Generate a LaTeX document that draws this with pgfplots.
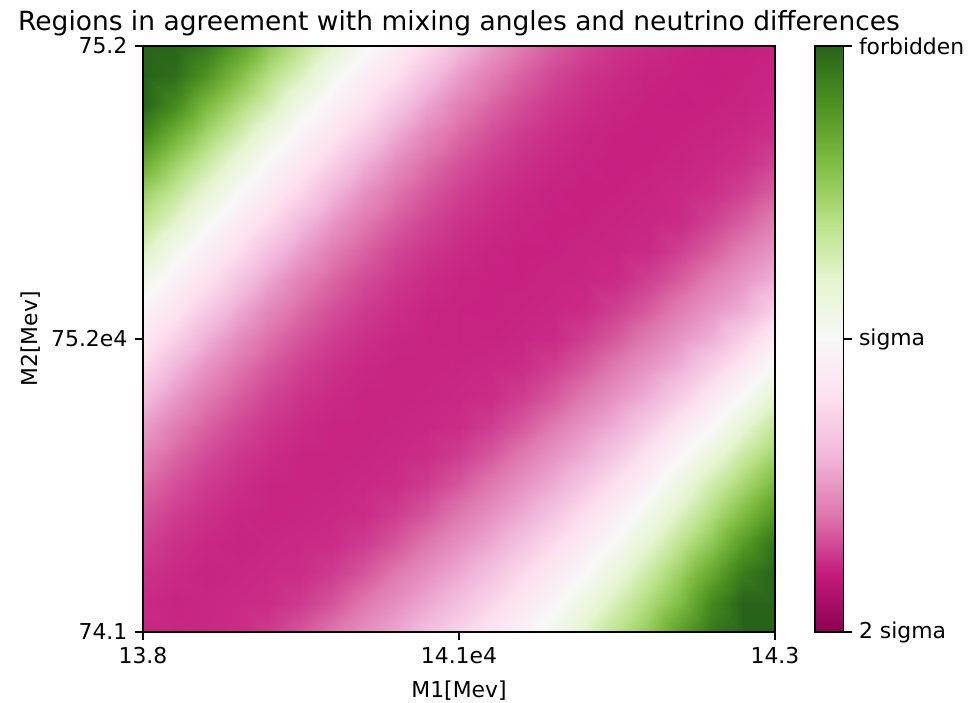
\documentclass[border=0pt]{standalone}
\usepackage{fontspec}
\setmainfont{DejaVu Sans}
\usepackage{pgfplots}
\pgfplotsset{compat=1.18}
\begin{document}
\begin{tikzpicture}
\begin{axis}[
  name=main,
  scale only axis, width=303.4pt, height=281.3pt,
  xmin=0, xmax=20, ymin=0, ymax=20,
  axis on top,
  xtick={0,10,20}, xticklabels={13.8,14.1e4,14.3},
  ytick={0,10,20}, yticklabels={74.1,75.2e4,75.2},
  tick align=outside, tick pos=left, major tick length=4pt,
  every tick/.style={black, line width=0.8pt},
  axis line style={line width=0.8pt},
  tick label style={font=\fontsize{10.5}{12}\selectfont},
  label style={font=\fontsize{10.5}{12}\selectfont},
  xlabel={M1[Mev]}, ylabel={M2[Mev]},
  xlabel style={at={(axis description cs:0.5,-0.1006)}, anchor=center},
  ylabel style={at={(axis description cs:-0.1772,0.5)}, anchor=center, rotate=0},
  title={Regions in agreement with mixing angles and neutrino differences},
  every axis title shift=0pt,
  title style={font=\fontsize{12.7}{14}\selectfont, at={(axis description cs:0.5,1)}, anchor=base, yshift=7.2pt},
  colormap={piyg}{rgb255=(142,1,82) rgb255=(197,27,125) rgb255=(222,119,174) rgb255=(241,182,218) rgb255=(253,224,239) rgb255=(247,247,247) rgb255=(230,245,208) rgb255=(184,225,134) rgb255=(127,188,65) rgb255=(77,146,33) rgb255=(39,100,25)},
  point meta min=0, point meta max=1,
  colorbar,
  colorbar style={
    width=13.6pt,
    at={(parent axis.north east)}, anchor=north west, xshift=10.66pt,
    ytick={0,0.5,1}, yticklabels={2 sigma,sigma,forbidden},
    tick align=outside, ytick pos=right, major tick length=4pt,
    every tick/.style={black, line width=0.8pt},
    axis line style={line width=0.8pt},
    yticklabel style={font=\fontsize{10.5}{12}\selectfont},
  },
]
\addplot[surf, shader=interp, mesh/cols=21, point meta=explicit] coordinates {
(0,0)[0.11] (1,0)[0.112] (2,0)[0.114] (3,0)[0.117] (4,0)[0.134] (5,0)[0.161] (6,0)[0.20] (7,0)[0.237] (8,0)[0.274] (9,0)[0.316] (10,0)[0.368] (11,0)[0.421] (12,0)[0.472] (13,0)[0.535] (14,0)[0.613] (15,0)[0.695] (16,0)[0.765] (17,0)[0.87] (18,0)[0.96] (19,0)[1.0] (20,0)[1.0]
(0,1)[0.117] (1,1)[0.11] (2,1)[0.113] (3,1)[0.116] (4,1)[0.119] (5,1)[0.134] (6,1)[0.162] (7,1)[0.201] (8,1)[0.238] (9,1)[0.276] (10,1)[0.32] (11,1)[0.375] (12,1)[0.429] (13,1)[0.483] (14,1)[0.555] (15,1)[0.637] (16,1)[0.718] (17,1)[0.80] (18,1)[0.92] (19,1)[1.0] (20,1)[1.0]
(0,2)[0.125] (1,2)[0.116] (2,2)[0.11] (3,2)[0.113] (4,2)[0.116] (5,2)[0.119] (6,2)[0.135] (7,2)[0.163] (8,2)[0.202] (9,2)[0.24] (10,2)[0.278] (11,2)[0.324] (12,2)[0.382] (13,2)[0.439] (14,2)[0.495] (15,2)[0.577] (16,2)[0.662] (17,2)[0.75] (18,2)[0.85] (19,2)[0.95] (20,2)[1.0]
(0,3)[0.14] (1,3)[0.123] (2,3)[0.114] (3,3)[0.11] (4,3)[0.113] (5,3)[0.116] (6,3)[0.119] (7,3)[0.135] (8,3)[0.163] (9,3)[0.202] (10,3)[0.241] (11,3)[0.28] (12,3)[0.329] (13,3)[0.389] (14,3)[0.449] (15,3)[0.513] (16,3)[0.60] (17,3)[0.688] (18,3)[0.775] (19,3)[0.88] (20,3)[0.97]
(0,4)[0.16] (1,4)[0.137] (2,4)[0.122] (3,4)[0.113] (4,4)[0.11] (5,4)[0.112] (6,4)[0.115] (7,4)[0.119] (8,4)[0.136] (9,4)[0.164] (10,4)[0.203] (11,4)[0.243] (12,4)[0.282] (13,4)[0.334] (14,4)[0.397] (15,4)[0.461] (16,4)[0.535] (17,4)[0.625] (18,4)[0.714] (19,4)[0.80] (20,4)[0.89]
(0,5)[0.185] (1,5)[0.156] (2,5)[0.134] (3,5)[0.12] (4,5)[0.111] (5,5)[0.11] (6,5)[0.112] (7,5)[0.115] (8,5)[0.119] (9,5)[0.136] (10,5)[0.165] (11,5)[0.204] (12,5)[0.244] (13,5)[0.284] (14,5)[0.34] (15,5)[0.407] (16,5)[0.474] (17,5)[0.558] (18,5)[0.652] (19,5)[0.73] (20,5)[0.81]
(0,6)[0.215] (1,6)[0.18] (2,6)[0.152] (3,6)[0.131] (4,6)[0.119] (5,6)[0.11] (6,6)[0.11] (7,6)[0.112] (8,6)[0.115] (9,6)[0.119] (10,6)[0.137] (11,6)[0.166] (12,6)[0.205] (13,6)[0.246] (14,6)[0.286] (15,6)[0.346] (16,6)[0.417] (17,6)[0.489] (18,6)[0.575] (19,6)[0.665] (20,6)[0.74]
(0,7)[0.26] (1,7)[0.209] (2,7)[0.175] (3,7)[0.148] (4,7)[0.128] (5,7)[0.117] (6,7)[0.11] (7,7)[0.11] (8,7)[0.112] (9,7)[0.115] (10,7)[0.119] (11,7)[0.137] (12,7)[0.166] (13,7)[0.206] (14,7)[0.247] (15,7)[0.288] (16,7)[0.354] (17,7)[0.425] (18,7)[0.495] (19,7)[0.59] (20,7)[0.68]
(0,8)[0.31] (1,8)[0.251] (2,8)[0.203] (3,8)[0.17] (4,8)[0.144] (5,8)[0.125] (6,8)[0.116] (7,8)[0.11] (8,8)[0.11] (9,8)[0.112] (10,8)[0.115] (11,8)[0.119] (12,8)[0.138] (13,8)[0.167] (14,8)[0.207] (15,8)[0.249] (16,8)[0.291] (17,8)[0.355] (18,8)[0.43] (19,8)[0.51] (20,8)[0.60]
(0,9)[0.375] (1,9)[0.30] (2,9)[0.242] (3,9)[0.197] (4,9)[0.165] (5,9)[0.14] (6,9)[0.123] (7,9)[0.114] (8,9)[0.11] (9,9)[0.11] (10,9)[0.112] (11,9)[0.115] (12,9)[0.119] (13,9)[0.139] (14,9)[0.168] (15,9)[0.208] (16,9)[0.25] (17,9)[0.29] (18,9)[0.36] (19,9)[0.43] (20,9)[0.52]
(0,10)[0.43] (1,10)[0.362] (2,10)[0.29] (3,10)[0.233] (4,10)[0.191] (5,10)[0.16] (6,10)[0.137] (7,10)[0.122] (8,10)[0.113] (9,10)[0.11] (10,10)[0.108] (11,10)[0.11] (12,10)[0.113] (13,10)[0.117] (14,10)[0.139] (15,10)[0.169] (16,10)[0.209] (17,10)[0.25] (18,10)[0.29] (19,10)[0.36] (20,10)[0.44]
(0,11)[0.475] (1,11)[0.419] (2,11)[0.349] (3,11)[0.28] (4,11)[0.224] (5,11)[0.185] (6,11)[0.156] (7,11)[0.134] (8,11)[0.12] (9,11)[0.111] (10,11)[0.108] (11,11)[0.107] (12,11)[0.11] (13,11)[0.113] (14,11)[0.117] (15,11)[0.14] (16,11)[0.17] (17,11)[0.21] (18,11)[0.25] (19,11)[0.285] (20,11)[0.36]
(0,12)[0.54] (1,12)[0.466] (2,12)[0.408] (3,12)[0.336] (4,12)[0.27] (5,12)[0.215] (6,12)[0.18] (7,12)[0.152] (8,12)[0.131] (9,12)[0.118] (10,12)[0.11] (11,12)[0.107] (12,12)[0.107] (13,12)[0.11] (14,12)[0.113] (15,12)[0.117] (16,12)[0.14] (17,12)[0.17] (18,12)[0.211] (19,12)[0.25] (20,12)[0.29]
(0,13)[0.625] (1,13)[0.527] (2,13)[0.457] (3,13)[0.397] (4,13)[0.323] (5,13)[0.26] (6,13)[0.209] (7,13)[0.175] (8,13)[0.146] (9,13)[0.128] (10,13)[0.117] (11,13)[0.109] (12,13)[0.106] (13,13)[0.107] (14,13)[0.11] (15,13)[0.113] (16,13)[0.117] (17,13)[0.14] (18,13)[0.171] (19,13)[0.212] (20,13)[0.25]
(0,14)[0.69] (1,14)[0.608] (2,14)[0.514] (3,14)[0.448] (4,14)[0.386] (5,14)[0.31] (6,14)[0.251] (7,14)[0.203] (8,14)[0.17] (9,14)[0.144] (10,14)[0.125] (11,14)[0.116] (12,14)[0.109] (13,14)[0.106] (14,14)[0.107] (15,14)[0.11] (16,14)[0.113] (17,14)[0.117] (18,14)[0.141] (19,14)[0.172] (20,14)[0.213]
(0,15)[0.75] (1,15)[0.677] (2,15)[0.591] (3,15)[0.501] (4,15)[0.439] (5,15)[0.375] (6,15)[0.30] (7,15)[0.242] (8,15)[0.197] (9,15)[0.165] (10,15)[0.14] (11,15)[0.123] (12,15)[0.114] (13,15)[0.108] (14,15)[0.105] (15,15)[0.107] (16,15)[0.11] (17,15)[0.115] (18,15)[0.121] (19,15)[0.141] (20,15)[0.173]
(0,16)[0.84] (1,16)[0.745] (2,16)[0.664] (3,16)[0.574] (4,16)[0.488] (5,16)[0.43] (6,16)[0.362] (7,16)[0.29] (8,16)[0.233] (9,16)[0.19] (10,16)[0.16] (11,16)[0.137] (12,16)[0.122] (13,16)[0.113] (14,16)[0.108] (15,16)[0.105] (16,16)[0.107] (17,16)[0.11] (18,16)[0.115] (19,16)[0.122] (20,16)[0.142]
(0,17)[0.93] (1,17)[0.83] (2,17)[0.735] (3,17)[0.651] (4,17)[0.557] (5,17)[0.475] (6,17)[0.419] (7,17)[0.349] (8,17)[0.28] (9,17)[0.224] (10,17)[0.185] (11,17)[0.156] (12,17)[0.134] (13,17)[0.12] (14,17)[0.111] (15,17)[0.107] (16,17)[0.105] (17,17)[0.107] (18,17)[0.11] (19,17)[0.115] (20,17)[0.122]
(0,18)[1.0] (1,18)[0.92] (2,18)[0.81] (3,18)[0.72] (4,18)[0.642] (5,18)[0.54] (6,18)[0.466] (7,18)[0.408] (8,18)[0.336] (9,18)[0.27] (10,18)[0.215] (11,18)[0.18] (12,18)[0.152] (13,18)[0.131] (14,18)[0.119] (15,18)[0.11] (16,18)[0.106] (17,18)[0.104] (18,18)[0.106] (19,18)[0.11] (20,18)[0.115]
(0,19)[1.0] (1,19)[0.98] (2,19)[0.90] (3,19)[0.80] (4,19)[0.705] (5,19)[0.625] (6,19)[0.527] (7,19)[0.457] (8,19)[0.401] (9,19)[0.323] (10,19)[0.26] (11,19)[0.209] (12,19)[0.175] (13,19)[0.146] (14,19)[0.128] (15,19)[0.117] (16,19)[0.109] (17,19)[0.106] (18,19)[0.104] (19,19)[0.107] (20,19)[0.111]
(0,20)[1.0] (1,20)[1.0] (2,20)[0.96] (3,20)[0.88] (4,20)[0.775] (5,20)[0.69] (6,20)[0.608] (7,20)[0.514] (8,20)[0.448] (9,20)[0.386] (10,20)[0.31] (11,20)[0.251] (12,20)[0.203] (13,20)[0.17] (14,20)[0.144] (15,20)[0.125] (16,20)[0.116] (17,20)[0.109] (18,20)[0.105] (19,20)[0.104] (20,20)[0.107]
};
\end{axis}
\pgfresetboundingbox
\path[use as bounding box] ([shift={(-68.64pt,-34.08pt)}]main.south west) rectangle ([shift={(92.64pt,22.08pt)}]main.north east);
\end{tikzpicture}
\end{document}
